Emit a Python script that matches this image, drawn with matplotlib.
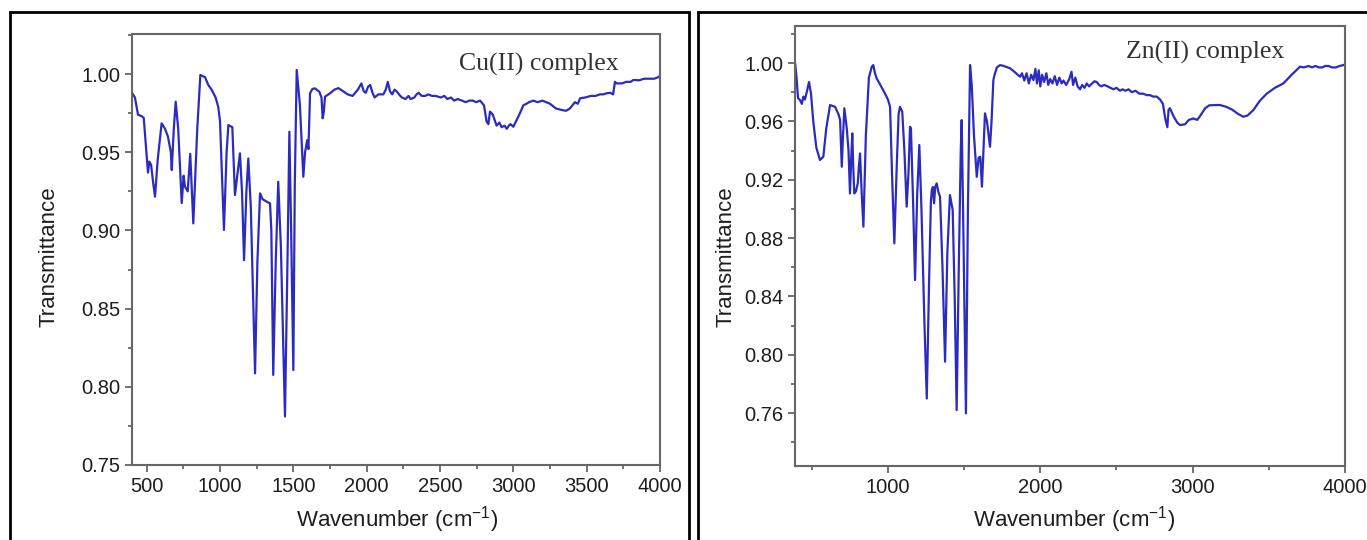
import matplotlib
matplotlib.use("Agg")
import matplotlib.pyplot as plt
from matplotlib.patches import Rectangle
from matplotlib.ticker import MultipleLocator, FormatStrFormatter

plt.rcParams['font.family'] = ['Liberation Sans', 'DejaVu Sans']
plt.rcParams['mathtext.default'] = 'regular'

# Cu(II) complex spectrum: (wavenumber, transmittance)
cu_spectrum = [
    (400, 0.988), (420, 0.985), (441, 0.974), (466, 0.973), (480, 0.972), (509, 0.937),
    (518, 0.944), (530, 0.942), (545, 0.930), (557, 0.9216), (575, 0.945), (602, 0.9685),
    (625, 0.965), (645, 0.960), (665, 0.950), (671, 0.9386), (685, 0.965), (698, 0.9823),
    (715, 0.965), (739, 0.9175), (752, 0.935), (761, 0.928), (780, 0.925), (797, 0.949),
    (818, 0.9045), (845, 0.965), (866, 0.9994), (898, 0.998), (920, 0.993), (943, 0.990),
    (970, 0.985), (988, 0.979), (1000, 0.970), (1027, 0.9003), (1045, 0.950), (1057, 0.9674),
    (1084, 0.966), (1102, 0.9226), (1118, 0.935), (1136, 0.9493), (1150, 0.925), (1164, 0.881),
    (1180, 0.925), (1193, 0.946), (1210, 0.915), (1239, 0.8086), (1255, 0.880), (1273, 0.9237),
    (1290, 0.920), (1318, 0.9184), (1341, 0.9173), (1350, 0.900), (1363, 0.8076), (1380, 0.880),
    (1397, 0.9311), (1415, 0.890), (1443, 0.781), (1460, 0.880), (1473, 0.9631), (1485, 0.900),
    (1500, 0.8107), (1510, 0.930), (1523, 1.0026), (1545, 0.980), (1568, 0.9343), (1580, 0.950),
    (1595, 0.9578), (1603, 0.952), (1614, 0.9877), (1630, 0.9905), (1648, 0.9908), (1677, 0.9887),
    (1692, 0.985), (1700, 0.9717), (1708, 0.976), (1716, 0.9855), (1750, 0.9877), (1780, 0.990),
    (1807, 0.991), (1840, 0.989), (1870, 0.987), (1904, 0.986), (1940, 0.990), (1964, 0.994),
    (1980, 0.989), (1994, 0.988), (2010, 0.992), (2024, 0.993), (2040, 0.988), (2054, 0.985),
    (2080, 0.987), (2114, 0.987), (2130, 0.990), (2144, 0.995), (2159, 0.989), (2174, 0.987),
    (2190, 0.990), (2204, 0.989), (2220, 0.987), (2240, 0.985), (2265, 0.984), (2285, 0.986),
    (2300, 0.984), (2325, 0.985), (2340, 0.987), (2355, 0.988), (2375, 0.986), (2400, 0.986),
    (2420, 0.987), (2445, 0.986), (2470, 0.986), (2505, 0.985), (2530, 0.986), (2550, 0.984),
    (2575, 0.985), (2596, 0.983), (2620, 0.984), (2650, 0.983), (2675, 0.982), (2700, 0.983),
    (2725, 0.983), (2746, 0.982), (2773, 0.983), (2800, 0.980), (2818, 0.9695), (2830, 0.968),
    (2841, 0.976), (2860, 0.974), (2886, 0.967), (2905, 0.969), (2920, 0.966), (2940, 0.967),
    (2955, 0.965), (2970, 0.967), (2980, 0.968), (3000, 0.9663), (3030, 0.972), (3050, 0.976),
    (3068, 0.980), (3090, 0.981), (3107, 0.982), (3136, 0.983), (3165, 0.982), (3197, 0.983),
    (3225, 0.982), (3250, 0.981), (3290, 0.978), (3330, 0.977), (3360, 0.9765), (3386, 0.978),
    (3420, 0.982), (3440, 0.981), (3455, 0.9845), (3490, 0.985), (3528, 0.986), (3560, 0.986),
    (3590, 0.987), (3615, 0.987), (3636, 0.9877), (3660, 0.988), (3680, 0.987), (3693, 0.995),
    (3704, 0.994), (3740, 0.994), (3769, 0.995), (3800, 0.995), (3818, 0.9962), (3859, 0.996),
    (3890, 0.997), (3920, 0.997), (3960, 0.997), (3989, 0.998), (4000, 0.999),
]

# Zn(II) complex spectrum
zn_spectrum = [
    (392, 0.999), (400, 0.990), (410, 0.976), (423, 0.9746), (435, 0.972), (445, 0.977),
    (455, 0.975), (467, 0.980), (482, 0.987), (495, 0.979), (510, 0.960), (530, 0.942),
    (554, 0.9335), (576, 0.9358), (595, 0.955), (620, 0.9712), (653, 0.970), (675, 0.965),
    (686, 0.961), (697, 0.9289), (705, 0.950), (714, 0.969), (730, 0.955), (741, 0.9403),
    (751, 0.9106), (759, 0.935), (766, 0.9518), (772, 0.930), (779, 0.9106), (790, 0.912),
    (802, 0.9175), (810, 0.930), (817, 0.938), (828, 0.910), (839, 0.8878), (855, 0.950),
    (875, 0.990), (894, 0.9975), (904, 0.9986), (915, 0.993), (926, 0.9895), (950, 0.985),
    (981, 0.979), (1000, 0.975), (1014, 0.970), (1028, 0.920), (1042, 0.8764), (1058, 0.930),
    (1070, 0.965), (1079, 0.970), (1094, 0.9666), (1108, 0.940), (1123, 0.9015), (1135, 0.925),
    (1145, 0.9563), (1151, 0.9552), (1165, 0.905), (1178, 0.8512), (1192, 0.910), (1206, 0.9438),
    (1220, 0.900), (1240, 0.820), (1255, 0.770), (1270, 0.850), (1282, 0.905), (1288, 0.9129),
    (1295, 0.915), (1303, 0.9038), (1310, 0.915), (1320, 0.9175), (1330, 0.912), (1342, 0.9083),
    (1358, 0.860), (1375, 0.7952), (1390, 0.870), (1407, 0.9095), (1415, 0.905), (1425, 0.8992),
    (1438, 0.840), (1451, 0.762), (1465, 0.860), (1478, 0.940), (1484, 0.9609), (1493, 0.900),
    (1512, 0.7598), (1525, 0.900), (1539, 0.9986), (1550, 0.985), (1565, 0.950), (1583, 0.922),
    (1595, 0.935), (1606, 0.9357), (1617, 0.9152), (1627, 0.940), (1637, 0.9655), (1650, 0.960),
    (1670, 0.9426), (1680, 0.960), (1692, 0.9883), (1700, 0.992), (1715, 0.997), (1736, 0.9986),
    (1760, 0.998), (1802, 0.9964), (1830, 0.994), (1867, 0.9906), (1880, 0.993), (1895, 0.988),
    (1910, 0.993), (1925, 0.986), (1940, 0.992), (1955, 0.9883), (1968, 0.996), (1978, 0.986),
    (1990, 0.995), (2000, 0.984), (2012, 0.992), (2025, 0.987), (2040, 0.993), (2052, 0.985),
    (2065, 0.989), (2080, 0.986), (2095, 0.991), (2110, 0.985), (2125, 0.990), (2140, 0.986),
    (2152, 0.988), (2170, 0.985), (2190, 0.989), (2205, 0.994), (2215, 0.985), (2230, 0.990),
    (2245, 0.984), (2261, 0.982), (2275, 0.985), (2290, 0.983), (2305, 0.986), (2320, 0.984),
    (2340, 0.986), (2355, 0.9875), (2371, 0.987), (2385, 0.985), (2400, 0.984), (2420, 0.985),
    (2442, 0.984), (2460, 0.983), (2480, 0.982), (2500, 0.983), (2523, 0.981), (2540, 0.982),
    (2558, 0.981), (2580, 0.982), (2600, 0.980), (2625, 0.981), (2650, 0.979), (2675, 0.979),
    (2699, 0.978), (2720, 0.978), (2740, 0.977), (2765, 0.977), (2786, 0.975), (2805, 0.972),
    (2820, 0.962), (2834, 0.956), (2842, 0.968), (2851, 0.969), (2877, 0.963), (2900, 0.959),
    (2917, 0.9575), (2950, 0.958), (2975, 0.961), (3005, 0.962), (3030, 0.961), (3051, 0.964),
    (3082, 0.969), (3109, 0.971), (3150, 0.9712), (3180, 0.9712), (3220, 0.970), (3260, 0.968),
    (3300, 0.965), (3333, 0.9632), (3360, 0.964), (3399, 0.9678), (3440, 0.974), (3486, 0.979),
    (3540, 0.983), (3595, 0.986), (3650, 0.992), (3705, 0.9975), (3730, 0.997), (3760, 0.998),
    (3785, 0.997), (3805, 0.998), (3830, 0.997), (3850, 0.997), (3870, 0.998), (3892, 0.998),
    (3915, 0.997), (3940, 0.997), (3965, 0.998), (3989, 0.9986), (4000, 0.999),
]

cu_wn = [p[0] for p in cu_spectrum]
cu_t = [p[1] for p in cu_spectrum]
zn_wn = [p[0] for p in zn_spectrum]
zn_t = [p[1] for p in zn_spectrum]

W, H = 1367, 540
line_col = '#2b2bbf'
spine_col = '#666666'
text_col = '#1e1e1e'

fig = plt.figure(figsize=(W / 100, H / 100), dpi=100)


def px_axes(l, t, r, b):
    return fig.add_axes([l / W, 1 - b / H, (r - l) / W, (b - t) / H])


def style(ax):
    for side in ['left', 'right', 'top', 'bottom']:
        ax.spines[side].set_color(spine_col)
        ax.spines[side].set_linewidth(1.5)
    ax.tick_params(which='both', direction='out', color=spine_col, width=1.3,
                   labelsize=14.5, labelcolor=text_col, top=False, right=False)
    ax.tick_params(which='major', length=5)
    ax.tick_params(which='minor', length=3)


# left panel - Cu(II)
ax1 = px_axes(132, 34, 660, 465)
ax1.plot(cu_wn, cu_t, color=line_col, lw=1.6)
ax1.set_xlim(400, 4000)
ax1.set_ylim(0.75, 1.0256)
ax1.xaxis.set_major_locator(MultipleLocator(500))
ax1.xaxis.set_minor_locator(MultipleLocator(250))
ax1.yaxis.set_major_locator(MultipleLocator(0.05))
ax1.yaxis.set_minor_locator(MultipleLocator(0.025))
ax1.yaxis.set_major_formatter(FormatStrFormatter('%.2f'))
style(ax1)
ax1.text(0.77, 0.93, 'Cu(II) complex', transform=ax1.transAxes, ha='center', va='center',
         family='Liberation Serif', fontsize=18.5, color='#333333')

# right panel - Zn(II)
ax2 = px_axes(795, 26, 1345, 466)
ax2.plot(zn_wn, zn_t, color=line_col, lw=1.6)
ax2.set_xlim(390, 4000)
ax2.set_ylim(0.7237, 1.0254)
ax2.xaxis.set_major_locator(MultipleLocator(1000))
ax2.xaxis.set_minor_locator(MultipleLocator(500))
ax2.yaxis.set_major_locator(MultipleLocator(0.04))
ax2.yaxis.set_minor_locator(MultipleLocator(0.02))
ax2.yaxis.set_major_formatter(FormatStrFormatter('%.2f'))
style(ax2)
ax2.set_yticks([0.76, 0.80, 0.84, 0.88, 0.92, 0.96, 1.00])
ax2.text(0.745, 0.94, 'Zn(II) complex', transform=ax2.transAxes, ha='center', va='center',
         family='Liberation Serif', fontsize=18.5, color='#333333')

# axis labels
for x, xl in [(49, 397), (726, 1074)]:
    fig.text(x / W, 1 - 257 / H, 'Transmittance', rotation=90, ha='center', va='center',
             fontsize=16, color=text_col)
    fig.text(xl / W, 1 - 520 / H, 'Wavenumber (cm$^{-1}$)', ha='center', va='center',
             fontsize=16, color=text_col)

# black frames around each panel
fig.patches.append(Rectangle((9.5 / W, -0.1), (689 - 9.5) / W, 1.1 - 11.5 / H,
                             transform=fig.transFigure, fill=False, ec='black', lw=2))
fig.patches.append(Rectangle((697.5 / W, -0.1), (1380 - 697.5) / W, 1.1 - 11.5 / H,
                             transform=fig.transFigure, fill=False, ec='black', lw=2))

fig.savefig('out.png', dpi=100)
